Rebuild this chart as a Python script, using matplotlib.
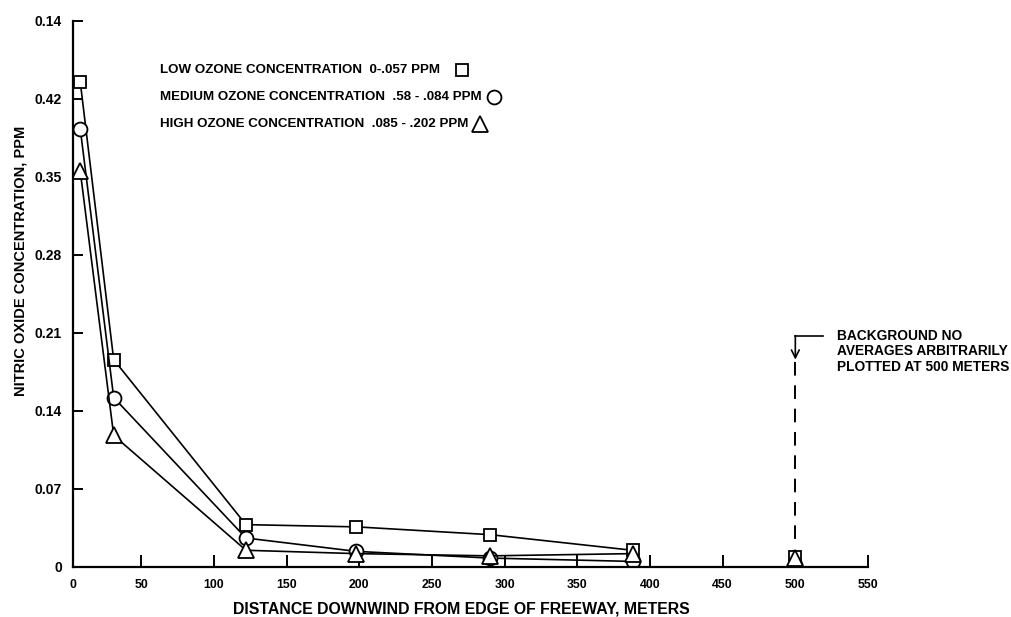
import matplotlib
matplotlib.use("Agg")
import matplotlib.pyplot as plt
from matplotlib.lines import Line2D


# distances downwind (m) and NO concentrations (ppm)
distance = [8, 31, 122, 198, 290, 388]
low_ozone = [0.435, 0.186, 0.038, 0.036, 0.029, 0.015]
medium_ozone = [0.393, 0.152, 0.026, 0.014, 0.008, 0.005]
high_ozone = [0.355, 0.118, 0.015, 0.012, 0.010, 0.012]

# background averages, arbitrarily plotted at 500 m
background_x = 500
background_low = 0.009
background_medium = 0.002
background_high = 0.008

x_ticks = [50, 100, 150, 200, 250, 300, 350, 400, 450, 500, 550]
y_ticks = [0, 0.07, 0.14, 0.21, 0.28, 0.35, 0.42, 0.49]
# the top label really reads 0.14 in the original
y_tick_labels = ["0", "0.07", "0.14", "0.21", "0.28", "0.35", "0.42", "0.14"]

legend_labels = [
    "LOW OZONE CONCENTRATION  0-.057 PPM",
    "MEDIUM OZONE CONCENTRATION  .58 - .084 PPM",
    "HIGH OZONE CONCENTRATION  .085 - .202 PPM",
]
legend_markers = ["s", "o", "^"]
marker_sizes = [9, 10, 11]

FONT = "Liberation Sans"
X_LEFT = 3
W, H = 1012, 617

plt.rcParams["font.family"] = FONT
plt.rcParams["font.weight"] = "bold"

fig = plt.figure(figsize=(W / 100, H / 100), dpi=100)
ax = fig.add_axes([73 / W, 50 / H, (868 - 73) / W, (567 - 20.7) / H])

style = dict(color="black", lw=1.2, mfc="white", mec="black", mew=1.3)
series = [low_ozone, medium_ozone, high_ozone]
backgrounds = [background_low, background_medium, background_high]
for vals, bg, m, ms in zip(series, backgrounds, legend_markers, marker_sizes):
    ax.plot(distance, vals, marker=m, ms=ms, **style)
    ax.plot(background_x, bg, ls="none", marker=m, ms=ms, **style)

# dashed pointer down to the background points
ax.plot([background_x, background_x], [0.184, 0.018], color="black", lw=1.4,
        dashes=(7, 5))
ax.annotate("", xy=(background_x, 0.186), xytext=(background_x, 0.2075),
            arrowprops=dict(arrowstyle="->", lw=1.2, color="black",
                            shrinkA=0, shrinkB=0, mutation_scale=14))
ax.plot([background_x, background_x + 19], [0.2075, 0.2075], color="black", lw=1.2)
ax.text(background_x + 29, 0.2135, "BACKGROUND NO\nAVERAGES ARBITRARILY\nPLOTTED AT 500 METERS",
        fontsize=9.9, fontweight="bold", va="top", ha="left", linespacing=1.12)

ax.set_xlim(X_LEFT, 550)
ax.set_ylim(0, 0.49)
ax.set_xticks([X_LEFT] + x_ticks)
ax.set_xticklabels(["0"] + [str(t) for t in x_ticks], fontsize=8.8, fontweight="bold")
ax.set_yticks(y_ticks)
ax.set_yticklabels(y_tick_labels, fontsize=10, fontweight="bold")
ax.tick_params(axis="x", direction="in", length=8.5, width=1.4, pad=9)
ax.tick_params(axis="y", direction="in", length=7, width=1.4, pad=8)

for side in ["top", "right"]:
    ax.spines[side].set_visible(False)
for side in ["left", "bottom"]:
    ax.spines[side].set_linewidth(1.6)

ax.set_ylabel("NITRIC OXIDE CONCENTRATION, PPM", fontsize=10.5, fontweight="bold")
ax.yaxis.set_label_coords(-0.057, 0.56)
fig.text(461 / W, 4 / H, "DISTANCE DOWNWIND FROM EDGE OF FREEWAY, METERS",
         ha="center", va="baseline", fontsize=11.4, fontweight="bold")

# hand-made key: text first, symbol right after it
legend_rows_y = [70, 97, 124]
marker_gaps = [22, 12, 12]
legend_texts = []
for label, row_y in zip(legend_labels, legend_rows_y):
    legend_texts.append(fig.text(160 / W, 1 - row_y / H, label, ha="left",
                                 va="center", fontsize=9.6, fontweight="bold"))
fig.canvas.draw()
renderer = fig.canvas.get_renderer()
for txt, row_y, m, ms, gap in zip(legend_texts, legend_rows_y, legend_markers,
                                  marker_sizes, marker_gaps):
    right = txt.get_window_extent(renderer).x1
    fig.add_artist(Line2D([(right + gap) / W], [1 - row_y / H], ls="none",
                          marker=m, ms=ms, mfc="white", mec="black", mew=1.3,
                          transform=fig.transFigure))

fig.savefig("out.png", dpi=100)
